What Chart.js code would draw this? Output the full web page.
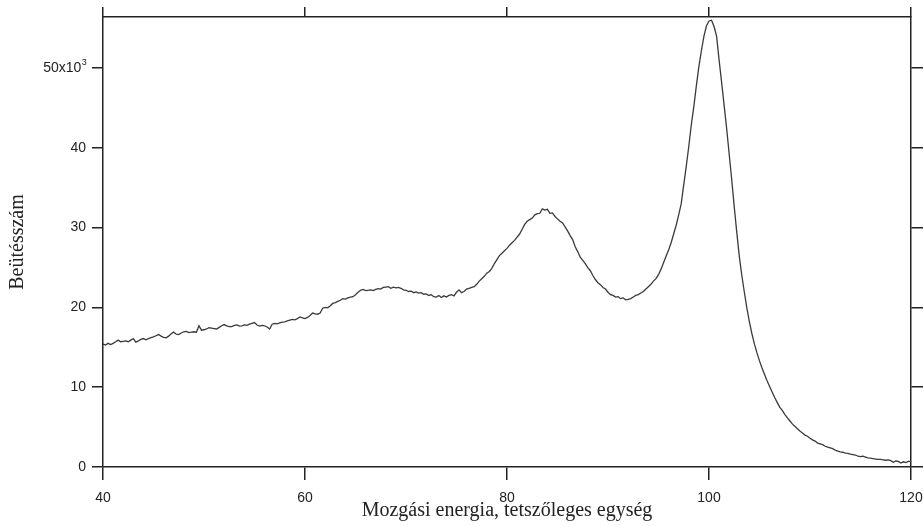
<!DOCTYPE html>
<html>
<head>
<meta charset="utf-8">
<script src="https://cdn.jsdelivr.net/npm/chart.js@4/dist/chart.umd.min.js"></script>
<style>
  html, body { margin: 0; padding: 0; background: #fff; overflow: hidden; }
  #wrap { width: 924px; height: 526px; position: relative; }
</style>
</head>
<body>
<div id="wrap"><canvas id="myChart"></canvas></div>
<script>
// energy grid: 40 .. 120, every 0.25 unit
const eStart = 40, eStep = 0.25;
// counts in thousands (8 values = 2 energy units per row)
const counts = [
  15.4, 15.3, 15.5, 15.35, 15.5, 15.7, 15.9, 15.7,      // 40
  15.75, 15.8, 15.7, 15.9, 16.1, 15.65, 15.8, 16.0,     // 42
  16.1, 15.95, 16.1, 16.2, 16.3, 16.45, 16.6, 16.4,     // 44
  16.25, 16.2, 16.4, 16.7, 16.9, 16.65, 16.6, 16.8,     // 46
  16.95, 17.0, 16.85, 16.9, 16.95, 16.9, 17.7, 17.15,   // 48
  17.2, 17.3, 17.45, 17.4, 17.35, 17.3, 17.5, 17.7,     // 50
  17.85, 17.7, 17.6, 17.6, 17.75, 17.8, 17.65, 17.7,    // 52
  17.8, 17.75, 17.9, 18.0, 18.1, 17.8, 17.65, 17.75,    // 54
  17.7, 17.55, 17.3, 17.9, 18.0, 17.95, 18.05, 18.15,   // 56
  18.2, 18.3, 18.4, 18.5, 18.45, 18.6, 18.8, 18.7,      // 58
  18.6, 18.75, 19.0, 19.3, 19.2, 19.15, 19.3, 19.9,     // 60
  20.0, 19.95, 20.2, 20.5, 20.6, 20.75, 20.9, 21.1,     // 62
  21.05, 21.2, 21.3, 21.35, 21.6, 21.9, 22.15, 22.25,   // 64
  22.1, 22.15, 22.2, 22.1, 22.25, 22.35, 22.3, 22.5,    // 66
  22.55, 22.6, 22.4, 22.55, 22.45, 22.5, 22.4, 22.2,    // 68
  22.15, 22.0, 22.05, 21.85, 21.95, 21.8, 21.85, 21.65, // 70
  21.7, 21.5, 21.6, 21.35, 21.3, 21.5, 21.25, 21.45,    // 72
  21.3, 21.5, 21.6, 21.45, 21.9, 22.2, 21.85, 22.0,     // 74
  22.3, 22.4, 22.5, 22.6, 22.9, 23.3, 23.6, 23.9,       // 76
  24.3, 24.5, 24.9, 25.5, 26.0, 26.5, 26.8, 27.1,       // 78
  27.4, 27.8, 28.1, 28.4, 28.8, 29.2, 29.8, 30.4,       // 80
  30.8, 31.0, 31.2, 31.6, 31.75, 31.8, 32.35, 32.2,     // 82
  32.3, 31.8, 31.85, 31.4, 31.1, 30.8, 30.6, 30.1,      // 84
  29.6, 29.0, 28.5, 27.6, 27.0, 26.3, 25.9, 25.5,       // 86
  25.0, 24.6, 24.0, 23.5, 23.1, 22.85, 22.5, 22.3,      // 88
  21.9, 21.6, 21.5, 21.3, 21.35, 21.1, 21.2, 20.95,     // 90
  21.0, 21.1, 21.3, 21.5, 21.6, 21.8, 22.0, 22.3,       // 92
  22.6, 22.9, 23.3, 23.6, 24.1, 24.8, 25.6, 26.4,       // 94
  27.2, 28.1, 29.2, 30.3, 31.6, 33.0, 35.4, 37.7,       // 96
  40.2, 42.9, 45.2, 47.8, 50.2, 52.2, 54.0, 55.3,       // 98
  55.9, 56.0, 55.2, 54.0, 51.0, 48.2, 45.3, 42.4,       // 100
  39.2, 36.0, 32.6, 29.4, 26.4, 24.0, 21.9, 19.9,       // 102
  18.2, 16.7, 15.4, 14.3, 13.3, 12.4, 11.6, 10.8,       // 104
  10.1, 9.4, 8.7, 8.1, 7.5, 7.1, 6.6, 6.2,              // 106
  5.8, 5.4, 5.1, 4.8, 4.5, 4.25, 4.0, 3.85,             // 108
  3.6, 3.4, 3.25, 3.0, 2.9, 2.8, 2.6, 2.5,              // 110
  2.4, 2.3, 2.1, 2.0, 1.9, 1.85, 1.75, 1.7,             // 112
  1.6, 1.55, 1.5, 1.35, 1.3, 1.35, 1.25, 1.15,          // 114
  1.1, 1.05, 1.0, 0.95, 0.95, 0.9, 0.85, 0.9,           // 116
  0.8, 0.6, 0.75, 0.7, 0.5, 0.65, 0.55, 0.7,            // 118
  0.7                                                   // 120
];
const xTicks = [40, 60, 80, 100, 120];
const yTicks = [0, 10, 20, 30, 40, 50];
const yExpTick = 50;      // tick that carries the x10^3 multiplier
const yExponent = '3';

const points = counts.map((c, i) => ({ x: eStart + i * eStep, y: c }));

const sansFamily = "'Liberation Sans', Arial, Helvetica, sans-serif";
const sansFont = { family: sansFamily, size: 14 };
const serifFont = { family: "'Liberation Serif', 'Times New Roman', serif", size: 20 };
const ink = '#222';
const expGap = '\u2004';  // room left for the superscript

function frameGrid(len) {
  return { drawOnChartArea: false, drawTicks: true, tickLength: len, color: ink, lineWidth: 1.5 };
}
const frameBorder = { display: true, color: ink, width: 1.5 };

// fixed box sizes so the frame lands where it is in the picture
function fixBox(w, h) {
  return s => {
    if (w !== null) s.width = w;
    if (h !== null) s.height = h;
    s.paddingLeft = s.paddingRight = s.paddingTop = s.paddingBottom = 0;
  };
}

// superscript exponent after the "50x10" tick label
const superscript = {
  id: 'superscript',
  afterDraw(chart) {
    const s = chart.scales.y;
    const c = chart.ctx;
    c.save();
    c.font = '14px ' + sansFamily;
    const gapW = c.measureText(expGap).width;
    const xRight = s.right - s.options.grid.tickLength - s.options.ticks.padding;
    c.font = '9px ' + sansFamily;
    c.fillStyle = ink;
    c.textAlign = 'left';
    c.textBaseline = 'alphabetic';
    c.fillText(yExponent, xRight - gapW + 0.5, s.getPixelForValue(yExpTick) - 3);
    c.restore();
  }
};

const ctx = document.getElementById('myChart').getContext('2d');
const myChart = new Chart(ctx, {
  type: 'line',
  data: {
    datasets: [{
      data: points,
      borderColor: '#3a3a3a',
      borderWidth: 1.3,
      pointRadius: 0,
      tension: 0,
      fill: false
    }]
  },
  options: {
    responsive: true,
    maintainAspectRatio: false,
    animation: false,
    layout: { padding: 0 },
    plugins: { legend: { display: false }, tooltip: { enabled: false } },
    scales: {
      x: {
        type: 'linear', position: 'bottom', min: 40, max: 120,
        afterBuildTicks: s => { s.ticks = xTicks.map(v => ({ value: v })); },
        afterFit: fixBox(null, 59),
        grid: frameGrid(13), border: frameBorder,
        ticks: { font: sansFont, color: ink, padding: 10, maxRotation: 0 },
        title: { display: true, text: 'Mozgási energia, tetszőleges egység', font: serifFont, color: ink, padding: { top: 0, bottom: 3 } }
      },
      x2: {
        type: 'linear', position: 'top', min: 40, max: 120,
        afterBuildTicks: s => { s.ticks = xTicks.map(v => ({ value: v })); },
        afterFit: fixBox(null, 17),
        grid: frameGrid(10), border: frameBorder,
        ticks: { display: false }
      },
      y: {
        type: 'linear', position: 'left', min: 0, max: 56.4,
        afterBuildTicks: s => { s.ticks = yTicks.map(v => ({ value: v })); },
        afterFit: fixBox(103, null),
        grid: frameGrid(11), border: frameBorder,
        ticks: {
          font: sansFont, color: ink, padding: 6,
          callback: v => v === yExpTick ? v + 'x10' + expGap : String(v)
        },
        title: { display: true, text: 'Beütésszám', font: serifFont, color: ink, padding: { top: 6, bottom: 0 } }
      },
      y2: {
        type: 'linear', position: 'right', min: 0, max: 56.4,
        afterBuildTicks: s => { s.ticks = yTicks.map(v => ({ value: v })); },
        afterFit: fixBox(13, null),
        grid: frameGrid(12), border: frameBorder,
        ticks: { display: false }
      }
    }
  },
  plugins: [superscript]
});
</script>
</body>
</html>
